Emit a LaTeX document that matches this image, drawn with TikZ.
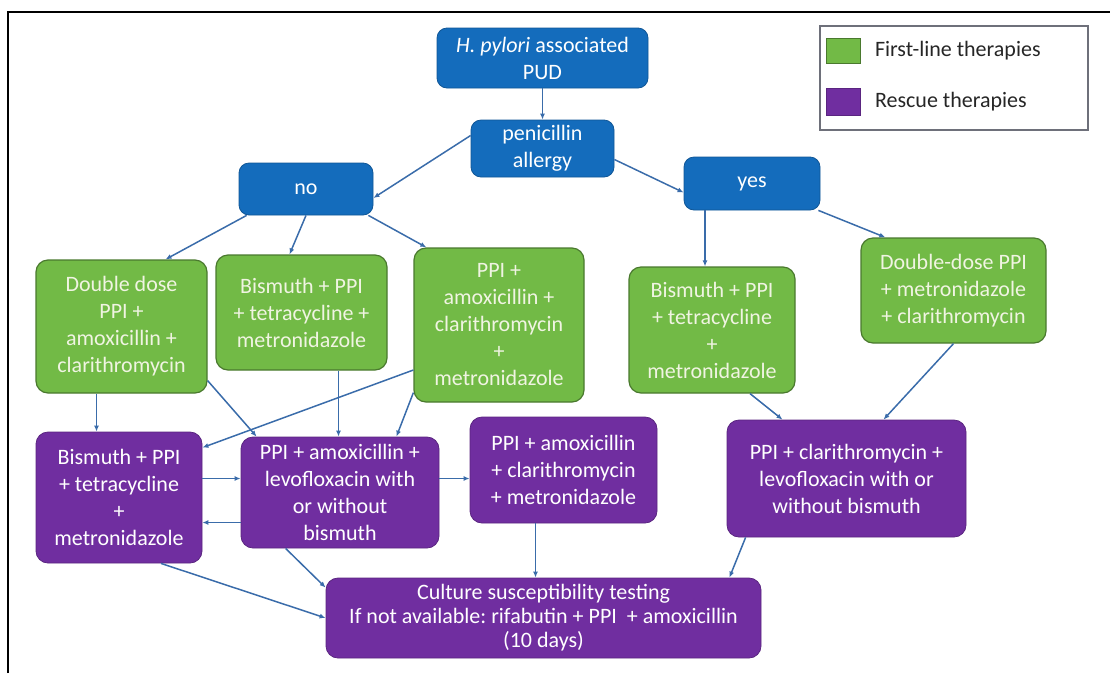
\documentclass[tikz,border=0pt]{standalone}
\usepackage{fontspec}
\setmainfont{Carlito}
\usepackage{xcolor}
\usepackage{tikz}
\usetikzlibrary{positioning,arrows.meta}
\definecolor{qblue}{RGB}{20,108,188}
\definecolor{tgreen}{RGB}{114,186,70}
\definecolor{gtext}{RGB}{240,244,226}
\definecolor{tpurple}{RGB}{112,46,160}
\definecolor{arrowblue}{RGB}{58,108,170}
\definecolor{legendgray}{RGB}{110,112,122}
\frenchspacing

\begin{document}
\begin{tikzpicture}[x=1pt,y=-1pt,every node/.style={font=\fontsize{22}{27}\selectfont},
  box/.style={rounded corners=12pt,align=center,inner sep=2pt},
  qbox/.style={box,rounded corners=10pt,fill=qblue,draw=qblue!80!black,line width=0.8pt,text=white},
  gbox/.style={box,fill=tgreen,draw=tgreen!65!black,line width=1.2pt,text=gtext},
  pbox/.style={box,fill=tpurple,draw=tpurple!80!black,line width=0.8pt,text=white},
  conn/.style={draw=arrowblue,line width=1.5pt,-{Latex[length=6pt,width=5pt]}}]
  \useasboundingbox (0,0) rectangle (1110,673);
  % frame
  \draw[line width=1.6pt] (8,673) -- (8,12) -- (1110,12);
  % decision nodes
  \node[qbox,minimum width=211pt,minimum height=60pt] (top) at (542.5,58) {\textit{H. pylori} associated\\PUD};
  \node[qbox,minimum width=143pt,minimum height=57pt] (pen) at (542.5,148.5) {penicillin\\allergy};
  \node[qbox,minimum width=134pt,minimum height=52pt] (no) at (306,189) {no};
  \node[qbox,minimum width=136pt,minimum height=53pt] (yes) at (752,183.5) {yes};
  % first-line therapies
  \node[gbox,minimum width=171pt,minimum height=133pt] (G1) at (121.5,326.5) {Double dose\\PPI +\\amoxicillin +\\clarithromycin};
  \node[gbox,minimum width=171pt,minimum height=115pt] (G2) at (301.5,312.5) {Bismuth + PPI\\+ tetracycline +\\metronidazole};
  \node[gbox,minimum width=170pt,minimum height=154pt] (G3) at (499,325) {PPI +\\amoxicillin +\\clarithromycin\\+\\metronidazole};
  \node[gbox,minimum width=166pt,minimum height=126pt] (G4) at (712,330) {Bismuth + PPI\\+ tetracycline\\+\\metronidazole};
  \node[gbox,minimum width=185pt,minimum height=105pt] (G5) at (953.5,290.5) {Double-dose PPI\\+ metronidazole\\+ clarithromycin};
  % rescue therapies
  \node[pbox,minimum width=166pt,minimum height=131pt] (P1) at (119,497.5) {Bismuth + PPI\\+ tetracycline\\+\\metronidazole};
  \node[pbox,minimum width=198pt,minimum height=111pt] (P2) at (340,492.5) {PPI + amoxicillin +\\levofloxacin with\\or without\\bismuth};
  \node[pbox,minimum width=187pt,minimum height=106pt] (P3) at (563.5,470) {PPI + amoxicillin\\+ clarithromycin\\+ metronidazole};
  \node[pbox,minimum width=239pt,minimum height=117pt] (P4) at (846.5,478.5) {PPI + clarithromycin +\\levofloxacin with or\\without bismuth};
  \node[pbox,minimum width=435pt,minimum height=80pt,font=\fontsize{22}{24}\selectfont] (bot) at (543.5,618)
    {Culture susceptibility testing\\If not available: rifabutin + PPI\ \ + amoxicillin\\(10 days)};
  % legend
  \node[draw=legendgray,line width=1.5pt,minimum width=268pt,minimum height=104pt] (legend) at (954,78) {};
  \node[fill=tgreen,draw=tgreen!65!black,line width=1pt,minimum width=34pt,minimum height=25pt,inner sep=0pt] (lgreen) at (843,50.5) {};
  \node[fill=tpurple,draw=tpurple!80!black,line width=1pt,minimum width=34pt,minimum height=27pt,inner sep=0pt] (lpurple) at (843,101.5) {};
  \node[right=11pt of lgreen,text=black!85] (lgtext) {First-line therapies};
  \node[right=11pt of lpurple,text=black!85] (lptext) {Rescue therapies};
  % connectors
  \draw[conn] (top) -- (pen);
  \draw[conn] ([yshift=13pt]pen.west) -- ([yshift=-9pt]no.east);
  \draw[conn] ([yshift=-11pt]pen.east) -- ([yshift=-9pt]yes.west);
  \draw[conn] ([xshift=8pt]no.south west) -- ([xshift=44pt]G1.north);
  \draw[conn] (no.south) -- ([xshift=-12pt]G2.north);
  \draw[conn] ([xshift=-5pt]no.south east) -- ([xshift=13pt]G3.north west);
  \draw[conn] ([xshift=-47pt]yes.south) -- ([xshift=-47pt]yes.south |- G4.north);
  \draw[conn] ([xshift=-2pt]yes.south east) -- ([xshift=25pt]G5.north west);
  \draw[conn] ([xshift=-25pt]G1.south) -- ([xshift=-25pt]G1.south |- P1.north);
  \draw[conn] ([yshift=13pt]G1.south east) -- ([xshift=16pt]P2.north west);
  \draw[conn] ([xshift=37pt]G2.south) -- ([xshift=37pt]G2.south |- P2.north);
  \draw[conn] ([yshift=-45pt]G3.west) -- ([yshift=-16pt]P1.north east);
  \draw[conn] ([yshift=10pt]G3.south west) -- ([xshift=-43pt]P2.north east);
  \draw[conn] ([xshift=38pt]G4.south) -- ([xshift=-64pt]P4.north);
  \draw[conn] (G5.south) -- ([xshift=37pt]P4.north);
  \draw[conn] ([yshift=19pt]P1.east) -- ([yshift=19pt]P1.east -| P2.west);
  \draw[conn] ([yshift=-25pt]P1.east -| P2.west) -- ([yshift=-25pt]P1.east);
  \draw[conn] ([yshift=14pt]P2.east) -- ([yshift=14pt]P2.east -| P3.west);
  \draw[conn] ([xshift=-28pt]P3.south) -- ([xshift=-28pt]P3.south |- bot.north);
  \draw[conn] ([xshift=19pt]P4.south west) -- ([xshift=-32pt]bot.north east);
  \draw[conn] ([xshift=45pt]P2.south west) -- ([yshift=-10pt]bot.north west);
  \draw[conn] ([xshift=42pt]P1.south) -- (bot.west);
\end{tikzpicture}
\end{document}
